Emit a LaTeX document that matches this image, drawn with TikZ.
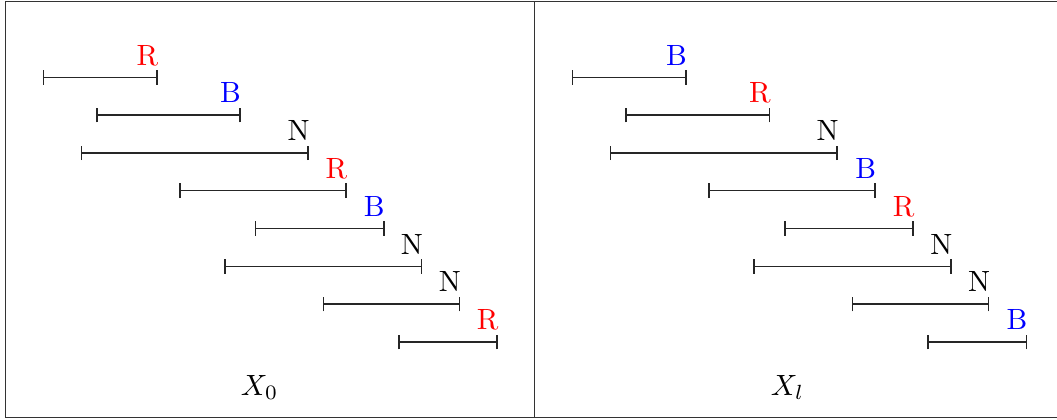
\documentclass[tikz,border=0pt]{standalone}
\usepackage{xcolor}
\begin{document}
\begin{tikzpicture}[x=0.3413pt,y=-0.3413pt,
  ivl/.style={draw=black!85,line width=0.5pt},
  framel/.style={draw=black!80,line width=0.45pt},
  lbl/.style={anchor=base,inner sep=0pt,font=\normalsize},
  panelname/.style={anchor=base,inner sep=0pt}]
\useasboundingbox (0,0) rectangle (1057,419);
% frame (right edge lies just outside the picture)
\draw[framel] (1062,1.7) -- (5.2,1.7) -- (5.2,417.3) -- (1062,417.3);
\coordinate (dtop) at (534.6,1.7);
\coordinate (dbot) at (534.6,417.3);
\draw[framel] (dtop) -- (dbot);
% intervals: left end / right end / row / label / colour
\foreach \a/\b/\r/\lab/\col [count=\i] in {
  43.7/157/0/R/red, 96.8/240/1/B/blue, 81.5/308.2/2/N/black,
  179.8/345.9/3/R/red, 255.4/383.8/4/B/blue, 224.9/421.3/5/N/black,
  323.5/459.4/6/N/black, 398.9/497.2/7/R/red}
{
  \pgfmathsetmacro{\y}{77.3+37.81*\r}
  \coordinate (la\i) at (\a,\y);
  \coordinate (lb\i) at (\b,\y);
  \draw[ivl] (la\i) -- (lb\i)
    ([yshift=-7.3*0.3413pt]la\i) -- ([yshift=7.3*0.3413pt]la\i)
    ([yshift=-7.3*0.3413pt]lb\i) -- ([yshift=7.3*0.3413pt]lb\i);
  \node[lbl,text=\col] (lt\i) at (\b-9.5,\y-12.3) {\lab};
}
\foreach \a/\b/\r/\lab/\col [count=\i] in {
  572.7/686/0/B/blue, 625.8/769.3/1/R/red, 610.7/837.2/2/N/black,
  708.8/875.2/3/B/blue, 784.8/913.2/4/R/red, 753.9/950.8/5/N/black,
  852.7/988.5/6/N/black, 928/1026.5/7/B/blue}
{
  \pgfmathsetmacro{\y}{77.3+37.81*\r}
  \coordinate (ra\i) at (\a,\y);
  \coordinate (rb\i) at (\b,\y);
  \draw[ivl] (ra\i) -- (rb\i)
    ([yshift=-7.3*0.3413pt]ra\i) -- ([yshift=7.3*0.3413pt]ra\i)
    ([yshift=-7.3*0.3413pt]rb\i) -- ([yshift=7.3*0.3413pt]rb\i);
  \node[lbl,text=\col] (rt\i) at (\b-9.5,\y-12.3) {\lab};
}
\node[panelname] (x0) at (259.6,395) {$X_0$};
\node[panelname] (xl) at (787.5,395) {$X_l$};
\end{tikzpicture}
\end{document}
